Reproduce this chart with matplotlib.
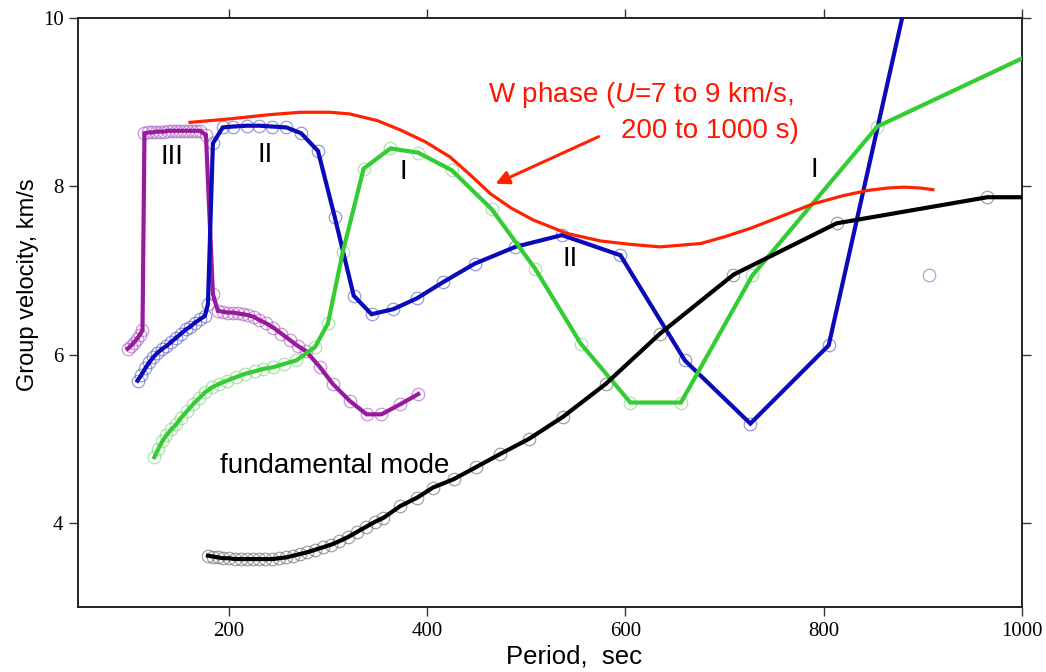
import matplotlib
matplotlib.use("Agg")
import matplotlib.pyplot as plt

plt.rcParams["font.family"] = ["Liberation Sans", "DejaVu Sans"]
plt.rcParams["mathtext.fontset"] = "custom"
plt.rcParams["mathtext.it"] = "Liberation Sans:italic"
plt.rcParams["mathtext.rm"] = "Liberation Sans"

# overtone III (purple)
p3_period = [98, 101, 104, 107, 110, 113, 115, 119, 123, 127, 131, 135, 139, 143, 147,
             151, 155, 159, 163, 167, 171, 177, 184, 189, 194, 199, 204, 209, 214, 219,
             225, 231, 238, 245, 253, 262, 270, 278, 292, 305, 322, 339, 354, 373, 391]
p3_vel = [6.07, 6.10, 6.14, 6.18, 6.23, 6.29, 8.63, 8.64, 8.64, 8.65, 8.65, 8.65, 8.66, 8.66, 8.66,
          8.66, 8.66, 8.66, 8.66, 8.66, 8.66, 8.61, 6.72, 6.52, 6.51, 6.50, 6.50, 6.49, 6.48, 6.47,
          6.45, 6.41, 6.37, 6.32, 6.25, 6.17, 6.10, 6.04, 5.85, 5.65, 5.45, 5.29, 5.29, 5.41, 5.53]
p3_extra = ([906], [6.95])

# overtone II (blue)
p2_period = [108, 112, 116, 120, 124, 128, 133, 137, 142, 147, 152, 157, 161, 166, 171, 176,
             179, 184, 194, 204, 218, 231, 244, 258, 273, 290, 307, 326, 344, 366, 390, 416,
             448, 489, 536, 595, 660, 726, 805, 900]
p2_vel = [5.69, 5.76, 5.84, 5.91, 5.97, 6.02, 6.07, 6.10, 6.15, 6.20, 6.25, 6.30, 6.33, 6.38, 6.42, 6.46,
          6.60, 8.51, 8.70, 8.71, 8.72, 8.72, 8.71, 8.70, 8.63, 8.42, 7.63, 6.70, 6.48, 6.54, 6.67, 6.86,
          7.08, 7.28, 7.42, 7.18, 5.93, 5.18, 6.11, 11.1]

# overtone I (green)
p1_period = [125, 129, 133, 137, 142, 147, 152, 158, 164, 170, 176, 183, 190, 198, 207, 216,
             226, 235, 245, 256, 268, 287, 300, 315, 336, 363, 391, 425, 465, 509, 555, 605,
             656, 728, 854, 1000]
p1_vel = [4.78, 4.88, 4.97, 5.04, 5.11, 5.17, 5.25, 5.33, 5.41, 5.48, 5.55, 5.61, 5.65, 5.69, 5.73, 5.77,
          5.80, 5.83, 5.85, 5.89, 5.93, 6.09, 6.37, 7.22, 8.21, 8.45, 8.40, 8.19, 7.73, 7.02, 6.13, 5.43,
          5.43, 6.94, 8.71, 9.52]

# fundamental mode (black)
p0_period = [179, 184, 189, 194, 200, 206, 212, 218, 224, 230, 237, 244, 251, 258, 265, 272,
             279, 287, 295, 303, 311, 320, 329, 338, 347, 356, 373, 390, 406, 427, 449, 474,
             503, 537, 580, 635, 709, 813, 965, 1000]
p0_vel = [3.61, 3.60, 3.59, 3.58, 3.58, 3.57, 3.57, 3.57, 3.57, 3.57, 3.57, 3.57, 3.58, 3.59, 3.61, 3.63,
          3.65, 3.68, 3.71, 3.74, 3.78, 3.83, 3.89, 3.95, 4.01, 4.06, 4.20, 4.30, 4.42, 4.52, 4.66, 4.82,
          5.00, 5.26, 5.65, 6.25, 6.95, 7.56, 7.87, 7.87]

# W phase envelope (red)
w_period = [161, 200, 240, 272, 302, 322, 350, 373, 398, 423, 445, 464, 485, 507, 541, 575,
            605, 635, 676, 700, 726, 750, 789, 820, 844, 865, 881, 897, 910]
w_vel = [8.76, 8.80, 8.85, 8.88, 8.88, 8.86, 8.78, 8.67, 8.53, 8.35, 8.12, 7.91, 7.74, 7.60, 7.44, 7.35,
         7.31, 7.28, 7.32, 7.40, 7.50, 7.61, 7.79, 7.89, 7.95, 7.98, 7.99, 7.98, 7.96]

mode_labels = [("III", 143, 8.35), ("II", 237, 8.37), ("I", 376, 8.17),
               ("II", 544, 7.14), ("I", 791, 8.19)]

fig = plt.figure(figsize=(10.46, 6.72), dpi=100)
ax = fig.add_axes([0.0746, 0.0967, 0.9025, 0.8765])

curves = [
    (p3_period, p3_vel, "#98189f", "#b060c0", len(p3_period)),
    (p2_period, p2_vel, "#0a0ab8", "#6464c8", len(p2_period) - 1),
    (p1_period, p1_vel, "#33cc33", "#7fd67f", len(p1_period) - 1),
    (p0_period, p0_vel, "#000000", "#707070", len(p0_period) - 1),
]
for per, vel, col, mcol, nmark in curves:
    ax.plot(per[:nmark], vel[:nmark], "o", ms=9, mfc="none", mec=mcol,
            mew=0.9, alpha=0.65, zorder=2)
    ax.plot(per, vel, "-", color=col, lw=3.0, solid_joinstyle="miter", zorder=3)

ax.plot(p3_extra[0], p3_extra[1], "o", ms=9, mfc="none", mec="#b060c0", mew=0.9, alpha=0.65)

ax.plot(w_period, w_vel, "-", color="#ff2200", lw=2.3, zorder=4)
ax.annotate("", xy=(469, 8.03), xytext=(573, 8.59),
            arrowprops=dict(arrowstyle="-|>", color="#ff2200", lw=2.2, mutation_scale=20,
                            shrinkA=0, shrinkB=0))
ax.text(461, 9.0, r"W phase ($\mathit{U}$=7 to 9 km/s,", color="#ff1500", fontsize=20,
        ha="left", va="baseline")
ax.text(775, 8.57, "200 to 1000 s)", color="#ff1500", fontsize=20, ha="right", va="baseline")

for lab, x, y in mode_labels:
    ax.text(x, y, lab, fontsize=20, ha="center", va="center")
ax.text(191, 4.68, "fundamental mode", fontsize=20, ha="left", va="center")

ax.set_xlim(48, 1000)
ax.set_ylim(3, 10)
ax.set_xticks([200, 400, 600, 800, 1000])
ax.set_yticks([4, 6, 8, 10])
ax.tick_params(direction="out", length=6.5, width=1.0, top=True, right=True,
               labelsize=15, pad=4, color="#333333")
for lbl in ax.get_xticklabels() + ax.get_yticklabels():
    lbl.set_fontfamily("Liberation Serif")
for sp in ax.spines.values():
    sp.set_linewidth(1.4)
    sp.set_color("#222222")

ax.set_xlabel("Period,  sec", fontsize=18.5)
ax.set_ylabel("Group velocity, km/s", fontsize=17)
ax.xaxis.set_label_coords(0.525, -0.064)
ax.yaxis.set_label_coords(-0.041, 0.547)

fig.savefig("out.png", dpi=100)
